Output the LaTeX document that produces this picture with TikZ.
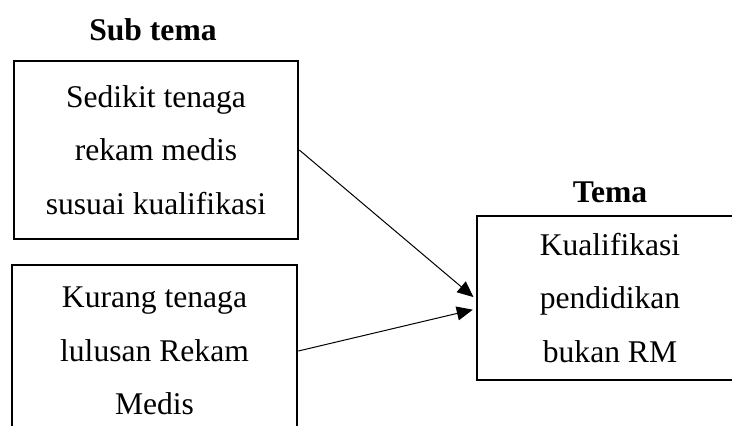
\documentclass[tikz,border=0pt]{standalone}
\usepackage{fontspec}
\setmainfont{Liberation Serif}
\usetikzlibrary{arrows.meta}

\begin{document}
\begin{tikzpicture}[x=0.5pt, y=-0.5pt, font=\fontsize{15.8}{26.8}\selectfont]
	\tikzstyle{box}=[draw, line width=1.3pt, rectangle, align=center, inner sep=0pt]
	\tikzstyle{title}=[font=\fontsize{15.8}{26.8}\selectfont\bfseries, inner sep=0pt]
	\tikzstyle{link}=[line width=0.5pt, -{Triangle[length=8pt, width=7pt]}, shorten >=1.5pt]

	\clip (0,0) rectangle (732,425);

	\node[title] (SubTema) at (153,30) {Sub tema};
	\node[title] (Tema) at (610,192) {Tema};

	\node[box, minimum width=142pt, minimum height=89pt] (Sedikit) at (156,150)
		{Sedikit tenaga\\rekam medis\\susuai kualifikasi};
	\node[box, minimum width=142.5pt, minimum height=86pt] (Kurang) at (154.5,351)
		{Kurang tenaga\\lulusan Rekam\\Medis};
	\node[box, minimum width=133pt, minimum height=82pt] (Kualifikasi) at (610,298)
		{Kualifikasi\\pendidikan\\bukan RM};

	\draw[link] (Sedikit.east) -- ([yshift=-0.5pt]Kualifikasi.west);
	\draw[link] (Kurang.east) -- ([yshift=-5.5pt]Kualifikasi.west);
\end{tikzpicture}
\end{document}
